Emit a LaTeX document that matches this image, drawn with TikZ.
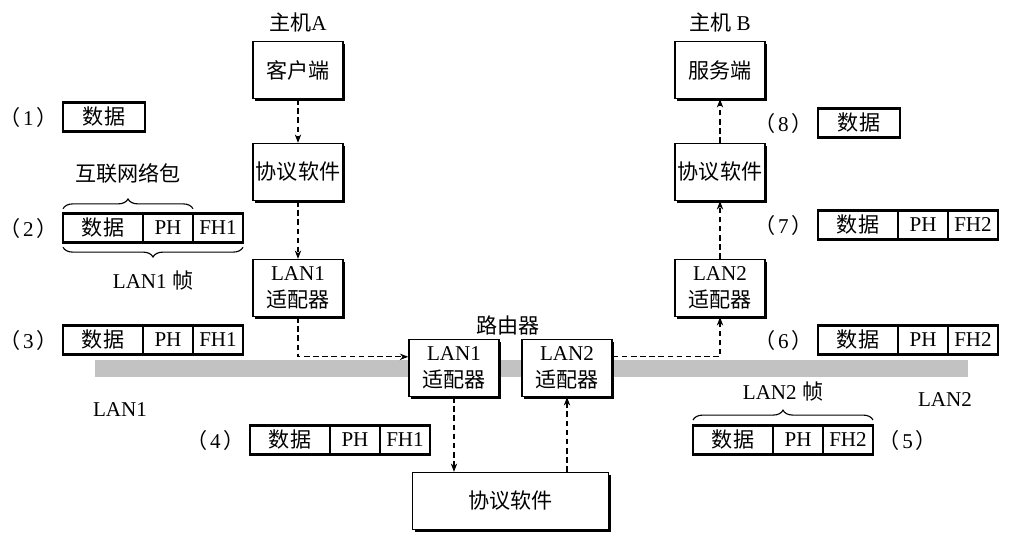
\documentclass[tikz,border=0pt]{standalone}
\usepackage{fontspec}
\setmainfont{Liberation Serif}
\newfontfamily\cjk{Noto Sans CJK SC}
\usepackage{tikz}
\usetikzlibrary{arrows.meta, positioning, fit, calc, shadows, decorations.pathreplacing}
\definecolor{lanbar}{HTML}{C2C2C2}
\newcommand{\stepno}[1]{{\cjk （}\hspace{0.12em}#1\hspace{0.12em}{\cjk ）}}

\begin{document}
\begin{tikzpicture}[x=1cm, y=1cm,
  every node/.style={font=\fontsize{15}{19}\selectfont},
  hostbox/.style={draw, line width=1pt, fill=white, minimum width=2.25cm,
    minimum height=1.42cm, align=center, inner sep=1pt,
    drop shadow={shadow xshift=0.06cm, shadow yshift=-0.06cm, opacity=1, fill=black}},
  pktcell/.style={draw, line width=0.8pt, minimum height=0.72cm, inner sep=0pt, outer sep=0pt},
  pktframe/.style={draw, line width=1.6pt, inner sep=0pt},
  flow/.style={dash pattern=on 4pt off 2.5pt, line width=0.9pt, -{Stealth[length=6pt, width=4.5pt]}},
  bracket/.style={decorate, decoration={brace, amplitude=7pt}, line width=0.8pt}]

  \useasboundingbox (0,0) rectangle (25.8,13.725);

  %% LAN wires
  \fill[lanbar] (2.375,4.3) rectangle (24.2,4.725);
  \node (lan1) at (3.0,3.475) {LAN1};
  \node (lan2) at (23.625,3.725) {LAN2};

  %% host A
  \node[hostbox] (client) at (7.45,11.975) {\cjk 客户端};
  \node[above=0.1cm of client] (hosta) {{\cjk 主机}A};
  \node[hostbox] (protoa) at (7.45,9.425) {\cjk 协议软件};
  \node[hostbox] (lana) at (7.45,6.525) {LAN1\\{\cjk 适配器}};

  %% host B
  \node[hostbox] (server) at (18.0,11.975) {\cjk 服务端};
  \node[above=0.1cm of server] (hostb) {{\cjk 主机} B};
  \node[hostbox] (protob) at (18.0,9.425) {\cjk 协议软件};
  \node[hostbox] (lanb) at (18.0,6.525) {LAN2\\{\cjk 适配器}};

  %% router
  \node (router) at (12.7,5.6) {\cjk 路由器};
  \node[hostbox] (ra) at (11.35,4.525) {LAN1\\{\cjk 适配器}};
  \node[hostbox] (rb) at (14.175,4.525) {LAN2\\{\cjk 适配器}};
  \node[hostbox, minimum width=4.9cm] (rproto) at (12.76,1.2) {\cjk 协议软件};

  %% connectors
  \draw[flow] (client) -- (protoa);
  \draw[flow] (protoa) -- (lana);
  \draw[flow] (lana.south) |- ([yshift=0.28cm]ra.west);
  \draw[flow] (ra.south) -- (ra.south |- rproto.north);
  \draw[flow] (rb.south |- rproto.north) -- (rb.south);
  \draw[flow] ([yshift=0.28cm]rb.east) -| (lanb.south);
  \draw[flow] (lanb) -- (protob);
  \draw[flow] (protob) -- (server);

  %% packets
  \node[pktcell, line width=1.6pt, minimum width=2.05cm, anchor=west] (d1) at (1.575,10.8) {\cjk 数据};
  \node[pktcell, line width=1.6pt, minimum width=2.05cm, anchor=west] (d8) at (20.45,10.65) {\cjk 数据};
  \foreach \n/\x/\y/\f in {2/1.575/8.025/FH1, 3/1.575/5.225/FH1, 4/6.25/2.725/FH1,
                           5/17.325/2.725/FH2, 6/20.45/5.225/FH2, 7/20.45/8.1/FH2}{
    \node[pktcell, minimum width=2.0cm, anchor=west] (d\n) at (\x,\y) {\cjk 数据};
    \node[pktcell, minimum width=1.25cm, right=0pt of d\n] (p\n) {PH};
    \node[pktcell, minimum width=1.25cm, right=0pt of p\n] (f\n) {\f};
    \node[pktframe, fit=(d\n)(f\n)] (k\n) {};
  }

  %% step numbers
  \node[left=0.02cm of d1] (s1) {\stepno{1}};
  \node[left=0.02cm of d2] (s2) {\stepno{2}};
  \node[left=0.02cm of d3] (s3) {\stepno{3}};
  \node[left=0.02cm of d4] (s4) {\stepno{4}};
  \node[right=0.02cm of f5] (s5) {\stepno{5}};
  \node[left=0.02cm of d6] (s6) {\stepno{6}};
  \node[left=0.02cm of d7] (s7) {\stepno{7}};
  \node[left=0.02cm of d8] (s8) {\stepno{8}};

  %% braces
  \draw[bracket] ([yshift=0.12cm]d2.north west) -- ([yshift=0.12cm]p2.north east)
    node[midway, above=0.5cm] (inet) {\cjk 互联网络包};
  \draw[bracket] ([yshift=-0.12cm]f2.south east) -- ([yshift=-0.12cm]d2.south west)
    node[midway, below=0.45cm] (frame1) {LAN1 {\cjk 帧}};
  \draw[bracket] ([yshift=0.14cm]d5.north west) -- ([yshift=0.14cm]f5.north east)
    node[midway, above=0.35cm] (frame2) {LAN2 {\cjk 帧}};

\end{tikzpicture}
\end{document}
